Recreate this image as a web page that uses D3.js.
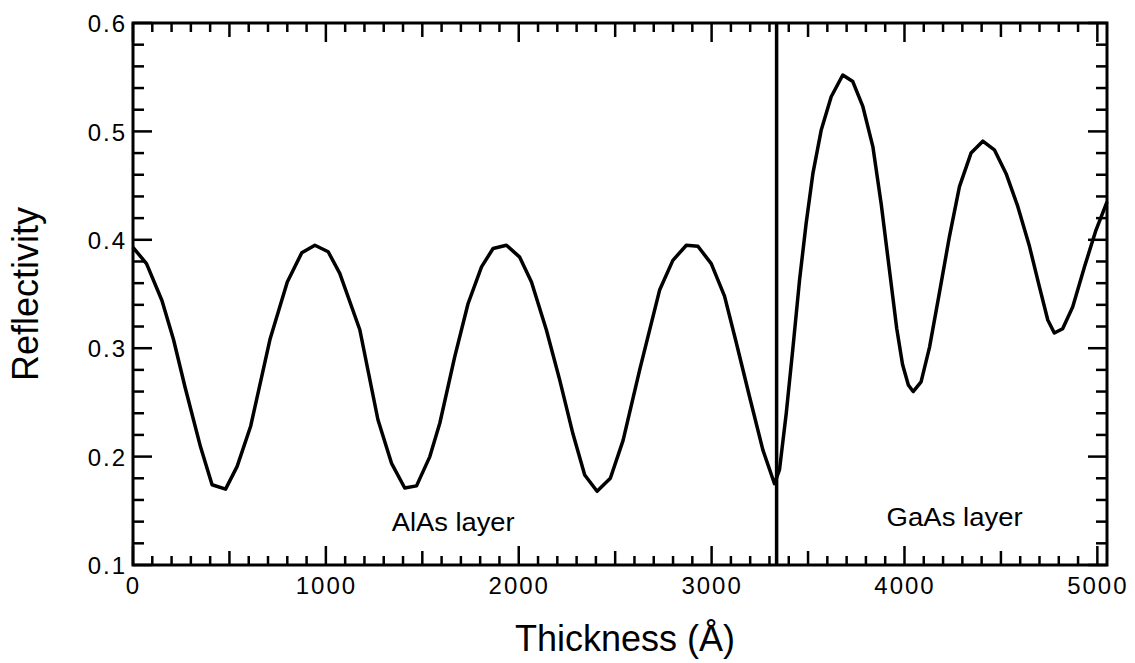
<!DOCTYPE html>
<html>
  <head>
    <meta charset="utf-8" />
    <style>
      body{
        margin: 0;
        background: white;
        font-family: 'Liberation Sans', Arial, Helvetica, sans-serif;
      }
      .tick-label{
        font-size: 24px;
        letter-spacing: 2px;
      }
    </style>
  </head>
  <body>
    <script src="https://d3js.org/d3.v7.min.js"></script>
    <svg id="chart"></svg>
    <script>
      // curve (thickness in Angstrom, reflectivity)
      var thickness = [0, 70, 150, 210, 270, 350, 410, 480, 540, 610, 710, 800, 875, 943, 1012,
        1072, 1176, 1270, 1340, 1409, 1470, 1539, 1591, 1668, 1737, 1807, 1867, 1936, 2005,
        2066, 2143, 2212, 2281, 2342, 2406, 2475, 2541, 2627, 2731, 2799, 2869, 2929, 2998,
        3067, 3128, 3197, 3266, 3326, 3352, 3387, 3422, 3456, 3490, 3525, 3568, 3620, 3680,
        3732, 3784, 3836, 3880, 3920, 3960, 3990, 4020, 4045, 4086, 4130, 4181, 4233, 4285,
        4345, 4406, 4466, 4527, 4587, 4648, 4699, 4743, 4777, 4820, 4872, 4933, 4993, 5050];
      var reflectivity = [0.393, 0.378, 0.344, 0.308, 0.264, 0.209, 0.174, 0.170, 0.191, 0.228,
        0.308, 0.361, 0.388, 0.395, 0.389, 0.369, 0.317, 0.234, 0.194, 0.171, 0.173, 0.200,
        0.231, 0.292, 0.341, 0.375, 0.392, 0.395, 0.384, 0.361, 0.317, 0.271, 0.221, 0.183,
        0.168, 0.180, 0.215, 0.280, 0.354, 0.381, 0.395, 0.394, 0.378, 0.348, 0.305, 0.255,
        0.206, 0.175, 0.188, 0.240, 0.301, 0.363, 0.415, 0.461, 0.501, 0.532, 0.552, 0.546,
        0.523, 0.486, 0.432, 0.375, 0.318, 0.285, 0.266, 0.260, 0.269, 0.301, 0.351, 0.403,
        0.449, 0.480, 0.491, 0.483, 0.461, 0.431, 0.394, 0.357, 0.326, 0.314, 0.318, 0.338,
        0.375, 0.409, 0.435];

      var xTickLabels = [0, 1000, 2000, 3000, 4000, 5000];
      var yTickLabels = [0.1, 0.2, 0.3, 0.4, 0.5, 0.6];
      var interfaceAt = 3337;
      var layerLabels = [
        { text: "AlAs layer", x: 1660, y: 0.131 },
        { text: "GaAs layer", x: 4260, y: 0.136 }
      ];

      var width = 1135;
      var height = 663;

      var svg = d3.select("#chart")
        .attr("width", width)
        .attr("height", height);

      var x = d3.scaleLinear().domain([0, 5050]).range([133, 1107]);
      var y = d3.scaleLinear().domain([0.1, 0.6]).range([565, 23]);

      var data = thickness.map(function (t, i) {
        return { t: t, r: reflectivity[i] };
      });

      // minor/medium/major ticks, all pointing inward
      var xTicks = d3.range(0, 5001, 100);
      var yTicks = d3.range(0, 26).map(function (i) { return +(0.1 + i * 0.02).toFixed(2); });

      function xLen(v) { return v % 1000 === 0 ? 19 : (v % 500 === 0 ? 14 : 9); }
      function yLen(v) { return Math.abs(Math.round(v * 100) % 10) === 0 ? 19 : 11; }

      var ticks = svg.append("g")
        .attr("stroke", "black")
        .attr("stroke-width", 2.5);

      ticks.selectAll(".xb").data(xTicks).enter().append("line")
        .attr("x1", function (d) { return x(d); })
        .attr("x2", function (d) { return x(d); })
        .attr("y1", y(0.1))
        .attr("y2", function (d) { return y(0.1) - xLen(d); });

      ticks.selectAll(".xt").data(xTicks).enter().append("line")
        .attr("x1", function (d) { return x(d); })
        .attr("x2", function (d) { return x(d); })
        .attr("y1", y(0.6))
        .attr("y2", function (d) { return y(0.6) + xLen(d); });

      ticks.selectAll(".yl").data(yTicks).enter().append("line")
        .attr("y1", function (d) { return y(d); })
        .attr("y2", function (d) { return y(d); })
        .attr("x1", x(0))
        .attr("x2", function (d) { return x(0) + yLen(d); });

      ticks.selectAll(".yr").data(yTicks).enter().append("line")
        .attr("y1", function (d) { return y(d); })
        .attr("y2", function (d) { return y(d); })
        .attr("x1", 1107)
        .attr("x2", function (d) { return 1107 - yLen(d); });

      // tick labels
      var xAxis = svg.append("g")
        .attr("transform", "translate(0," + y(0.1) + ")")
        .call(d3.axisBottom(x).tickValues(xTickLabels).tickSize(0).tickPadding(10).tickFormat(d3.format("d")));
      xAxis.select(".domain").remove();
      xAxis.selectAll("text")
        .attr("class", "tick-label")
        .attr("font-family", null)
        .attr("fill", "black")
        .attr("dy", "0.8em");

      var yAxis = svg.append("g")
        .attr("transform", "translate(" + (x(0) - 6) + ",0)")
        .call(d3.axisLeft(y).tickValues(yTickLabels).tickSize(0).tickPadding(0).tickFormat(d3.format(".1f")));
      yAxis.select(".domain").remove();
      yAxis.selectAll("text")
        .attr("class", "tick-label")
        .attr("font-family", null)
        .attr("fill", "black")
        .attr("dy", "0.36em");

      // frame
      svg.append("rect")
        .attr("x", x(0))
        .attr("y", y(0.6))
        .attr("width", 1107 - x(0))
        .attr("height", y(0.1) - y(0.6))
        .attr("fill", "none")
        .attr("stroke", "black")
        .attr("stroke-width", 3);

      // interface line
      svg.append("line")
        .attr("x1", x(interfaceAt))
        .attr("x2", x(interfaceAt))
        .attr("y1", y(0.1))
        .attr("y2", y(0.6))
        .attr("stroke", "black")
        .attr("stroke-width", 3.5);

      var line = d3.line()
        .x(function (d) { return x(d.t); })
        .y(function (d) { return y(d.r); });

      svg.append("path")
        .datum(data)
        .attr("d", line)
        .attr("fill", "none")
        .attr("stroke", "black")
        .attr("stroke-width", 3.5)
        .attr("stroke-linejoin", "round");

      svg.selectAll(".layer")
        .data(layerLabels)
        .enter()
        .append("text")
        .attr("x", function (d) { return x(d.x); })
        .attr("y", function (d) { return y(d.y); })
        .attr("text-anchor", "middle")
        .attr("font-size", 25)
        .attr("textLength", function (d, i) { return i === 0 ? 123 : 136; })
        .attr("lengthAdjust", "spacingAndGlyphs")
        .text(function (d) { return d.text; });

      // axis titles
      svg.append("text")
        .attr("x", 625)
        .attr("y", 651)
        .attr("text-anchor", "middle")
        .attr("font-size", 36)
        .text("Thickness (Å)");

      svg.append("text")
        .attr("transform", "translate(38,294) rotate(-90)")
        .attr("text-anchor", "middle")
        .attr("font-size", 36)
        .text("Reflectivity");
    </script>
  </body>
</html>
